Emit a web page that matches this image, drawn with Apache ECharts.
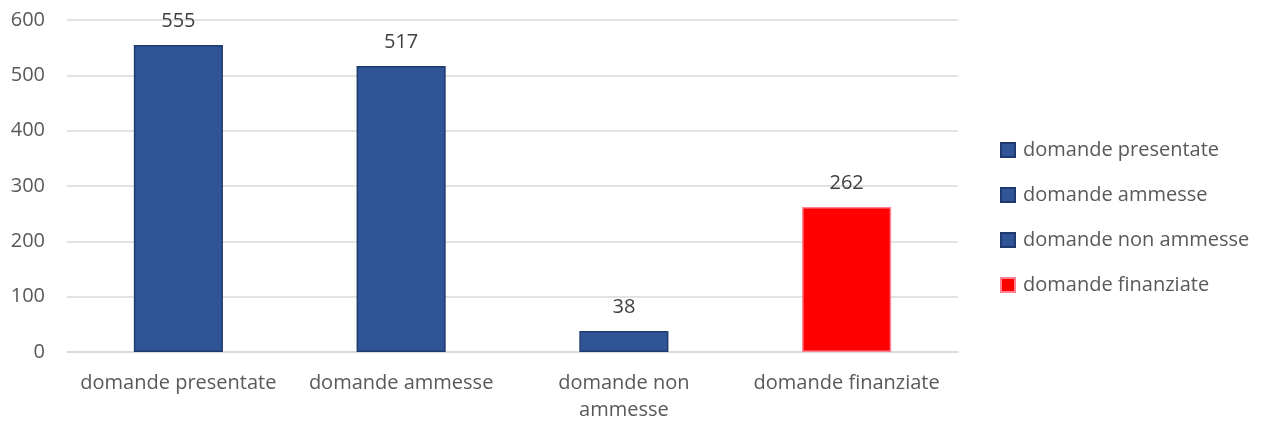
<!DOCTYPE html>
<html>
<head>
<meta charset="utf-8">
<script src="https://cdn.jsdelivr.net/npm/echarts@6/dist/echarts.min.js"></script>
<style>html,body{margin:0;padding:0;background:#fff}#c{width:1264px;height:426px}</style>
</head>
<body>
<div id="c"></div>
<script>
const categories = ['domande presentate', 'domande ammesse', 'domande non ammesse', 'domande finanziate'];
const values = [555, 517, 38, 262];
const yTicks = [0, 100, 200, 300, 400, 500, 600];

const fillColors = ['#2F5597', '#2F5597', '#2F5597', '#FF0000'];
const borderColors = ['#1F3A6E', '#1F3A6E', '#1F3A6E', '#FF8090'];
const FONT = '"Open Sans", sans-serif';

const series = categories.map((name, i) => ({
  name: name,
  type: 'bar',
  stack: 'all',
  barWidth: '40%',
  data: categories.map((c, j) => (j === i ? values[i] : '-')),
  itemStyle: { color: fillColors[i], borderColor: borderColors[i], borderWidth: 1.5 },
  label: { show: true, position: 'top', color: '#404040', fontSize: 20, fontFamily: FONT, distance: 14 }
}));

const chart = echarts.init(document.getElementById('c'), null, { renderer: 'canvas' });
chart.setOption({
  animation: false,
  backgroundColor: '#fff',
  grid: { left: 67, right: 306, top: 20, bottom: 74, containLabel: false },
  legend: {
    orient: 'vertical',
    left: 1000,
    top: 140,
    padding: 0,
    itemWidth: 14,
    itemHeight: 14,
    itemGap: 25,
    icon: 'rect',
    textStyle: { color: '#595959', fontSize: 20, fontFamily: FONT, lineHeight: 20, padding: [0, 0, 0, 3] },
    data: categories
  },
  xAxis: {
    type: 'category',
    data: categories,
    axisLine: { show: true, lineStyle: { color: '#D9D9D9', width: 1.5 } },
    axisTick: { show: false },
    axisLabel: {
      color: '#595959', fontSize: 20, fontFamily: FONT, margin: 18, lineHeight: 27,
      interval: 0,
      formatter: v => v === 'domande non ammesse' ? 'domande non\nammesse' : v
    }
  },
  yAxis: {
    type: 'value',
    min: yTicks[0],
    max: yTicks[yTicks.length - 1],
    interval: 100,
    axisLine: { show: false },
    axisTick: { show: false },
    splitLine: { lineStyle: { color: '#D9D9D9', width: 1.5 } },
    axisLabel: { color: '#595959', fontSize: 20, fontFamily: FONT, margin: 22 }
  },
  series: series
});
</script>
</body>
</html>
